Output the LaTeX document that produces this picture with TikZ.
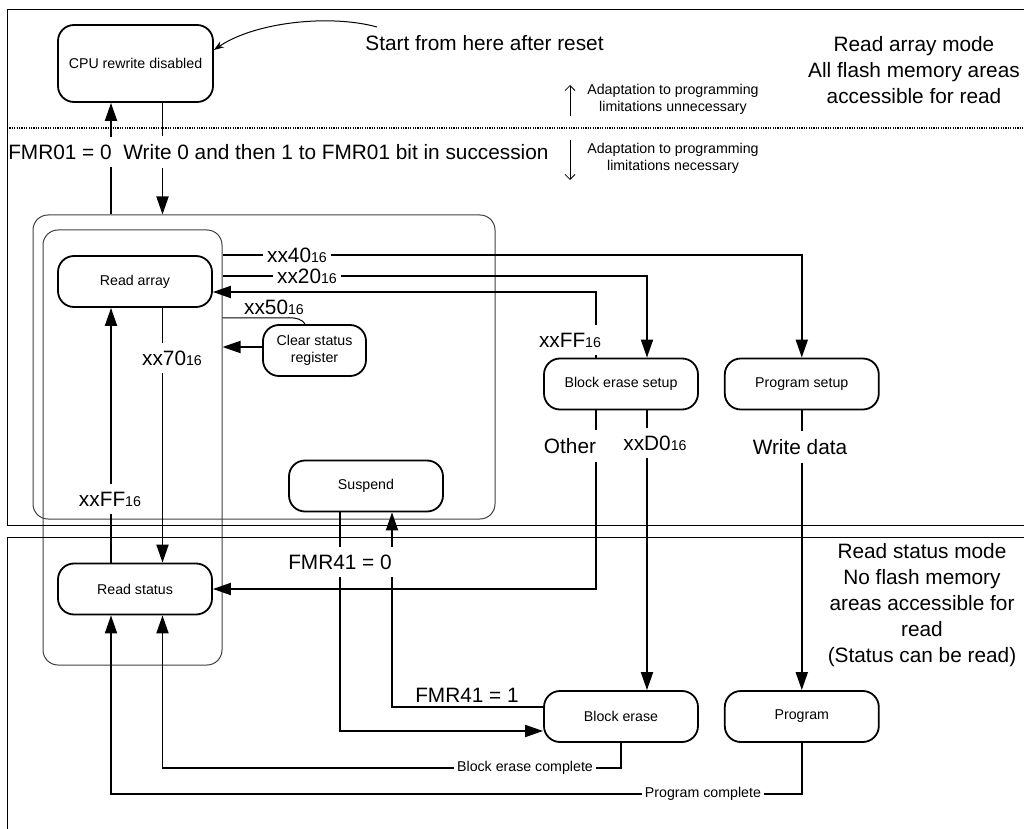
\documentclass[tikz,border=0pt]{standalone}
\usepackage{fontspec}
\setmainfont{Liberation Sans}
\usepackage{tikz}
\usetikzlibrary{positioning,arrows.meta,fit}

\newcommand{\hexcode}[1]{#1{\fontsize{7.1}{8}\selectfont 16}}

\begin{document}
\begin{tikzpicture}[
    x=0.5pt, y=-0.5pt,
    >={Triangle[length=9pt,width=6pt]},
    every node/.style={font=\fontsize{7.1}{8.5}\selectfont},
    stbox/.style={draw, line width=0.9pt, rounded corners=8pt, minimum width=77pt, minimum height=25.5pt, inner sep=0pt, align=center},
    group/.style={draw=black!75, line width=0.5pt, rounded corners=7.5pt, inner sep=0pt},
    flow/.style={->, line width=0.9pt},
    big/.style={font=\fontsize{10.4}{13}\selectfont},
    vlbl/.style={big, fill=white, inner xsep=1.5pt, inner ysep=4pt},
    hlbl/.style={big, fill=white, inner xsep=2pt, inner ysep=1pt},
    note/.style={fill=white, inner xsep=1.5pt, inner ysep=1pt, align=center}
]
    \useasboundingbox (0,0) rectangle (1024,829);

    % mode groups
    \node[group, fit={(33,215) (495,519)}] (arraygrp) {};
    \node[group, fit={(43,230) (222,665)}] (rwgrp) {};

    % states
    \node[stbox, minimum width=77.5pt, minimum height=38.5pt] (cpu) at (135.5,63.5) {CPU rewrite disabled};
    \node[stbox] (readarray)  at (135,281.5) {Read array};
    \node[stbox] (readstatus) at (135,589)   {Read status};
    \node[stbox, minimum width=51.5pt] (clearsr) at (314.5,350.5) {Clear status\\register};
    \node[stbox] (suspend)    at (366,486)   {Suspend};
    \node[stbox] (erasesetup) at (621,384)   {Block erase setup};
    \node[stbox] (progsetup)  [right=12.5pt of erasesetup] {Program setup};
    \node[stbox] (erase)      at (621,716.5) {Block erase};
    \node[stbox] (program)    [right=12.5pt of erase]      {Program};

    % columns and rows for the lines
    \coordinate (colA) at (111,0);
    \coordinate (colB) at (162.5,0);
    \coordinate (colS) at (340,0);
    \coordinate (colR) at (392,0);
    \coordinate (colO) at (596,0);
    \coordinate (colD) at (647,0);
    \coordinate (becrow) at (0,768);
    \coordinate (pcrow)  at (0,794);

    \draw[flow] (arraygrp.north -| colA) -- (cpu.south -| colA);
    \draw[flow] (cpu.south -| colB) -- (arraygrp.north -| colB);
    \draw[flow] (readarray.north -| rwgrp.east) -| (progsetup.north);
    \draw[flow] ([yshift=-10.5pt]readarray.north -| rwgrp.east) -| (erasesetup.north -| colD);
    \draw[flow] (erasesetup.north -| colO) |- ([yshift=-5.25pt]readarray.east);
    \draw[line width=0.5pt] ([yshift=-5pt]readarray.south -| rwgrp.east) -- ++(62,0)
        .. controls (297,317) and (303,320) .. ([xshift=-4.75pt]clearsr.north);
    \draw[flow] ([yshift=1.75pt]clearsr.west) -- ([yshift=1.75pt]clearsr.west -| rwgrp.east);
    \draw[flow] (readarray.south -| colB) -- (readstatus.north -| colB);
    \draw[flow] (readstatus.north -| colA) -- (readarray.south -| colA);
    \draw[flow] (erasesetup.south -| colO) |- (readstatus.east);
    \draw[flow] (erasesetup.south -| colD) -- (erase.north -| colD);
    \draw[flow] (progsetup) -- (program);
    \draw[flow] (suspend.south -| colS) |- ([yshift=-7.25pt]erase.west);
    \draw[flow] ([yshift=4.75pt]erase.west) -| (suspend.south -| colR);
    \draw[flow] (erase.south) |- (becrow -| colB) -- (readstatus.south -| colB);
    \draw[flow] (program.south) |- (pcrow -| colA) -- (readstatus.south -| colA);

    % labels
    \node[vlbl] (fmr01lbl) at (60,152)  {FMR01 = 0};
    \node[vlbl] (writelbl) at (336,152) {Write 0 and then 1 to FMR01 bit in succession};
    \node[hlbl] (x40lbl) at (297,255) {\hexcode{xx40}};
    \node[hlbl] (x20lbl) at (307,276) {\hexcode{xx20}};
    \node[big]  (x50lbl) at (274,307) {\hexcode{xx50}};
    \node[vlbl] (x70lbl) at (172,358) {\hexcode{xx70}};
    \node[vlbl] (ffllbl) at (110,499) {\hexcode{xxFF}};
    \node[vlbl] (ffrlbl) at (570,340) {\hexcode{xxFF}};
    \node[vlbl] (otherlbl) at (570,446) {Other};
    \node[vlbl] (d0lbl)    at (655,443) {\hexcode{xxD0}};
    \node[vlbl] (wdatalbl) at (800,447) {Write data};
    \node[vlbl] (fmr40lbl) at (340,562) {FMR41 = 0};
    \node[hlbl] (fmr41lbl) at (467,695) {FMR41 = 1};
    \node[note] (becomplbl) at (525,768) {Block erase complete};
    \node[note] (pcomplbl)  at (703,794) {Program complete};

    % reset note
    \node[big] (startlbl) at (484.5,43) {Start from here after reset};
    \coordinate (resetpt) at (377,27);
    \draw[-{Stealth[length=5pt,width=3.5pt]}, line width=0.5pt] (resetpt)
        .. controls (330,14) and (255,22) .. ([yshift=6.75pt]cpu.east);

    % adaptation notes
    \node[note] (unneclbl) at (673,99)  {Adaptation to programming\\limitations unnecessary};
    \node[note] (neclbl)   at (673,158) {Adaptation to programming\\limitations necessary};
    \coordinate (upfoot) at (570,116);
    \coordinate (uptip)  at (570,85);
    \coordinate (dnfoot) at (570,140);
    \coordinate (dntip)  at (570,180);
    \draw[-{Straight Barb[length=2.5pt,width=5pt]}, line width=0.4pt] (upfoot) -- (uptip);
    \draw[-{Straight Barb[length=2.5pt,width=5pt]}, line width=0.4pt] (dnfoot) -- (dntip);

    % mode texts
    \node[big, align=center] (arraymode)  at (914,70)  {Read array mode\\All flash memory areas\\accessible for read};
    \node[big, align=center] (statusmode) at (922,605) {Read status mode\\No flash memory\\areas accessible for\\read\\(Status can be read)};

    % frames
    \draw[line width=0.5pt] (1024,10) -- (7,10) -- (7,525) -- (1024,525);
    \draw[line width=0.5pt] (1024,537) -- (7,537) -- (7,829);
    \draw[line width=0.6pt, dash pattern=on 0.6pt off 0.6pt] (7,128) -- (1024,128);
\end{tikzpicture}
\end{document}
